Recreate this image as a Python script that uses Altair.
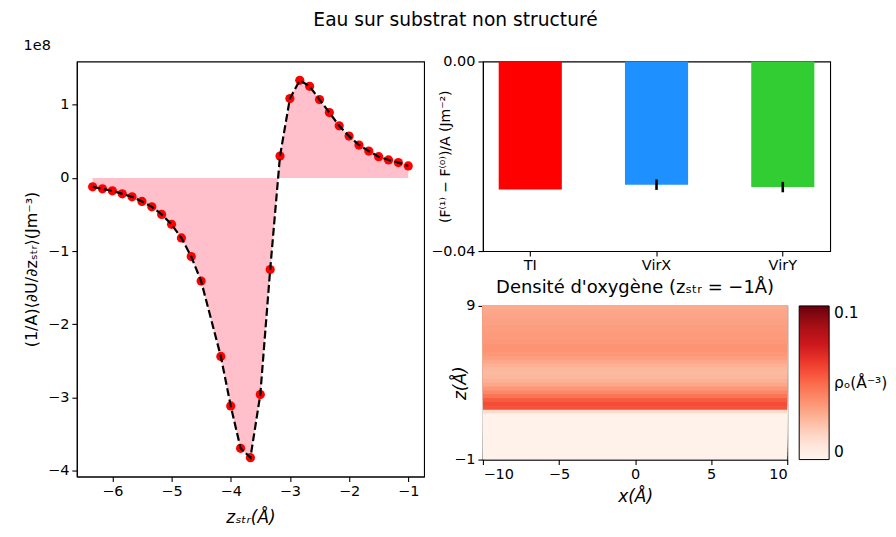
import altair as alt
import pandas as pd
import numpy as np

# ---------------- Left panel data ----------------
z_str = [-6.333, -6.167, -6.0, -5.833, -5.667, -5.5, -5.333, -5.167, -5.0, -4.833, -4.667, -4.5,
         -4.167, -4.0, -3.833, -3.667, -3.5, -3.333, -3.167, -3.0, -2.833, -2.667, -2.5, -2.333,
         -2.167, -2.0, -1.833, -1.667, -1.5, -1.333, -1.167, -1.0]
dU_dz = [-0.122, -0.150, -0.177, -0.218, -0.259, -0.322, -0.395, -0.499, -0.635, -0.821, -1.075, -1.410,
         -2.440, -3.116, -3.696, -3.823, -2.961, -1.252, 0.299, 1.084, 1.333, 1.252, 1.070, 0.893,
         0.712, 0.571, 0.449, 0.367, 0.290, 0.245, 0.209, 0.163]

# ---------------- Bar panel data ----------------
methods = ["TI", "VirX", "VirY"]
dF = [-0.0270, -0.0260, -0.0265]
dF_err = [0.0, 0.0011, 0.0011]
bar_colors = ["#ff0000", "#1e90ff", "#32cd32"]

# ---------------- Heatmap data (oxygen density profile along z, 0.25 A bins from -1 to 9) ----------------
z_edges = list(np.linspace(-1.0, 9.0, 41))
rho_O = [0.002, 0.002, 0.002, 0.002, 0.002, 0.002, 0.002, 0.002, 0.002, 0.002, 0.002, 0.002,
         0.014, 0.056, 0.058, 0.054, 0.047, 0.041, 0.036, 0.031, 0.028, 0.026, 0.025, 0.026,
         0.028, 0.031, 0.034, 0.036, 0.037, 0.037, 0.036, 0.035, 0.035, 0.034, 0.034, 0.033,
         0.033, 0.032, 0.031, 0.030]
x_range = [-10.0, 10.0]
reds = ["#fff5f0", "#fee0d2", "#fcbba1", "#fc9272", "#fb6a4a", "#ef3b2c", "#cb181d", "#a50f15", "#67000d"]

FONT = "DejaVu Sans"
MINUS = "\u2212"

# ---------------- Left chart ----------------
df_left = pd.DataFrame({"z": z_str, "dU": dU_dz, "zero": [0.0] * len(z_str)})
xl = alt.X("z:Q", scale=alt.Scale(domain=[-6.6, -0.733], nice=False, zero=False),
           axis=alt.Axis(values=[-6, -5, -4, -3, -2, -1], title="zₛₜᵣ(Å)", titleFontStyle="italic",
                         titleFontSize=17, titlePadding=12,
                         labelExpr="replace(format(datum.value, 'd'), '-', '" + MINUS + "')"))
yl = alt.Y("dU:Q", scale=alt.Scale(domain=[-4.081, 1.591], nice=False, zero=False),
           axis=alt.Axis(values=[-4, -3, -2, -1, 0, 1], title="(1/A)⟨∂U/∂zₛₜᵣ⟩(Jm⁻³)",
                         labelExpr="replace(format(datum.value, 'd'), '-', '" + MINUS + "')"))
base_l = alt.Chart(df_left)
area = base_l.mark_area(color="#ffc0cb", opacity=1).encode(x=xl, y=yl, y2="zero:Q")
pts = base_l.mark_circle(color="#ff0000", size=85, opacity=1).encode(x=xl, y=yl)
line = base_l.mark_line(color="black", strokeDash=[8, 3.5], strokeWidth=2.2).encode(x=xl, y=yl)
left = alt.layer(area, pts, line).properties(
    width=348, height=416,
    title=alt.TitleParams("1e8", anchor="start", fontSize=14.5, fontWeight="normal", font=FONT, offset=8))

# ---------------- Bar chart ----------------
df_bar = pd.DataFrame({"method": methods, "dF": dF, "err": dF_err, "color": bar_colors})
df_bar["lo"] = df_bar["dF"] - df_bar["err"]
df_bar["hi"] = df_bar["dF"] + df_bar["err"]
xb = alt.X("method:N", sort=methods, scale=alt.Scale(paddingInner=0.5, paddingOuter=0.125),
           axis=alt.Axis(title=None, labelAngle=0))
yb = alt.Y("dF:Q", scale=alt.Scale(domain=[-0.04, 0.0], nice=False, zero=False),
           axis=alt.Axis(values=[-0.04, 0.0], title="(F⁽¹⁾ − F⁽⁰⁾)/A (Jm⁻²)", titleFontSize=14,
                         titleX=-37, titleY=95, titleBaseline="middle", titleAlign="center",
                         titleAngle=270,
                         labelExpr="replace(format(datum.value, '.2f'), '-', '" + MINUS + "')"))
bars = alt.Chart(df_bar).mark_bar(opacity=1).encode(
    x=xb, y=yb, y2=alt.datum(0.0), color=alt.Color("color:N", scale=None))
errs = alt.Chart(df_bar[df_bar["err"] > 0]).mark_rule(color="black", strokeWidth=2.6).encode(
    x=xb, y=alt.Y("lo:Q"), y2="hi:Q")
barchart = alt.layer(bars, errs).properties(width=348, height=190)

# ---------------- Heatmap ----------------
# each row is drawn from its lower edge up to the top of the grid; rows drawn in
# increasing z order, so each later row covers the upper part (no anti-aliasing seams)
df_heat = pd.DataFrame({
    "z0": z_edges[:-1], "ztop": [z_edges[-1]] * len(rho_O), "rho": rho_O,
    "x0": [x_range[0]] * len(rho_O), "x1": [x_range[1]] * len(rho_O)})
cscale = alt.Scale(type="linear", domain=[0.0, 0.1], range=reds, interpolate="rgb")
heat = alt.Chart(df_heat).mark_rect(opacity=1).encode(
    x=alt.X("x0:Q", scale=alt.Scale(domain=[-10, 10], nice=False, zero=False),
            axis=alt.Axis(values=[-10, -5, 0, 5, 10], title="x(Å)", titleFontStyle="italic",
                          titleFontSize=17, titlePadding=8,
                          labelExpr="replace(format(datum.value, 'd'), '-', '" + MINUS + "')")),
    x2="x1:Q",
    y=alt.Y("z0:Q", scale=alt.Scale(domain=[-1, 9], nice=False, zero=False),
            axis=alt.Axis(values=[-1, 9], title="z(Å)", titleFontStyle="italic", titleFontSize=17,
                          titleX=-22, titleY=77, titleBaseline="middle", titleAlign="center",
                          titleAngle=270,
                          labelExpr="replace(format(datum.value, 'd'), '-', '" + MINUS + "')")),
    y2="ztop:Q",
    order=alt.Order("z0:Q", sort="ascending"),
    color=alt.Color("rho:Q", scale=cscale,
                    legend=alt.Legend(title=None, type="gradient", orient="none", legendX=724,
                                      legendY=245, padding=0,
                                      gradientLength=154, gradientThickness=30,
                                      gradientStrokeColor="black", gradientStrokeWidth=1,
                                      values=[0, 0.05, 0.1], labelOverlap=False,
                                      labelFontSize=15.5, labelFont=FONT, labelColor="black",
                                      labelOffset=5, direction="vertical",
                                      labelExpr="datum.value == 0 ? '0' : (datum.value > 0.09 ? '0.1' : 'ρₒ(Å⁻³)')"))
).properties(width=305, height=154,
             title=alt.TitleParams("Densité d'oxygène (zₛₜᵣ = −1Å)", fontSize=18, fontWeight="normal",
                                   font=FONT, offset=1))

right = alt.vconcat(barchart, heat, spacing=55, bounds="flush")
chart = alt.hconcat(left, right, spacing=59, bounds="flush").properties(
    title=alt.TitleParams("Eau sur substrat non structuré", fontSize=18.7, fontWeight="normal",
                          font=FONT, anchor="middle", offset=8),
    padding={"left": 15, "top": 2, "right": 0, "bottom": 0}
).configure(font=FONT).configure_view(
    stroke="black", strokeWidth=1.1
).configure_axis(
    labelFont=FONT, titleFont=FONT, labelFontSize=14.5, titleFontSize=16, labelColor="black",
    titleColor="black", tickColor="black", domainColor="black", tickSize=5, grid=False,
    titleFontWeight="normal", labelPadding=3, domainWidth=1.1, tickWidth=1.1
).configure_axisY(titlePadding=8)

chart.save("out.html", embed_options={"renderer": "svg", "actions": False})
